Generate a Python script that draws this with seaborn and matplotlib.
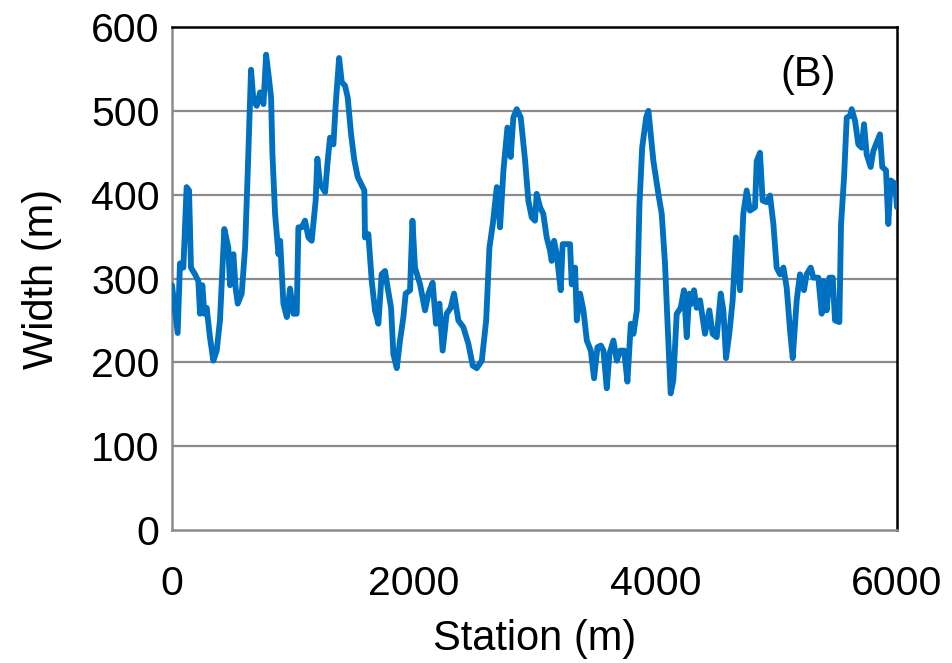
import matplotlib
matplotlib.use("Agg")
import matplotlib.pyplot as plt
import seaborn as sns
import pandas as pd

station = [0, 47, 66, 94, 121, 141, 157, 190, 218, 232, 251, 268, 287, 314, 342, 370, 397,
           433, 466, 480, 508, 527, 544, 577, 605, 627, 654, 674, 701, 729, 757, 779, 798,
           820, 831, 853, 881, 895, 922, 950, 977, 1005, 1032, 1046, 1074, 1101, 1129, 1156,
           1189, 1203, 1225, 1267, 1289, 1308, 1336, 1355, 1383, 1405, 1432, 1454, 1482,
           1509, 1537, 1565, 1592, 1597, 1625, 1653, 1680, 1708, 1735, 1763, 1785, 1813,
           1832, 1860, 1887, 1915, 1934, 1970, 1990, 2011, 2053, 2094, 2122, 2157, 2185,
           2213, 2240, 2273, 2306, 2334, 2370, 2411, 2453, 2489, 2522, 2564, 2600, 2627,
           2655, 2688, 2715, 2743, 2776, 2803, 2825, 2853, 2886, 2922, 2949, 2977, 3004,
           3018, 3046, 3073, 3101, 3129, 3142, 3162, 3184, 3217, 3233, 3267, 3294, 3308,
           3336, 3350, 3377, 3405, 3433, 3466, 3493, 3521, 3549, 3571, 3598, 3620, 3653,
           3681, 3709, 3742, 3769, 3797, 3819, 3847, 3869, 3891, 3924, 3943, 3984, 4025,
           4053, 4080, 4100, 4127, 4149, 4177, 4210, 4237, 4260, 4281, 4301, 4320, 4342,
           4370, 4411, 4447, 4474, 4508, 4541, 4563, 4585, 4612, 4640, 4667, 4701, 4728,
           4756, 4783, 4825, 4839, 4866, 4888, 4921, 4949, 4977, 5004, 5032, 5060, 5087,
           5115, 5137, 5170, 5197, 5230, 5252, 5286, 5308, 5349, 5377, 5391, 5418, 5440,
           5468, 5487, 5523, 5537, 5562, 5584, 5611, 5625, 5653, 5680, 5708, 5727, 5749,
           5782, 5804, 5837, 5859, 5878, 5909, 5928, 5948, 5984, 6000]
width = [292, 235, 318, 313, 409, 405, 313, 305, 297, 258, 292, 258, 265, 230, 202, 214, 250,
         359, 337, 292, 329, 288, 270, 282, 337, 428, 549, 512, 506, 522, 508, 567, 544,
         516, 449, 377, 329, 345, 270, 254, 288, 258, 258, 361, 361, 369, 349, 345,
         393, 443, 413, 403, 441, 468, 460, 508, 563, 534, 530, 516, 472,
         441, 421, 413, 405, 349, 353, 297, 262, 246, 305, 309, 289, 265,
         210, 193, 226, 254, 282, 286, 369, 313, 293, 262, 282, 295, 246,
         270, 214, 258, 265, 282, 250, 242, 222, 196, 193, 202, 250, 337,
         365, 409, 361, 429, 480, 445, 492, 502, 492, 441, 393, 373, 369,
         401, 385, 377, 349, 333, 321, 345, 329, 286, 341, 341, 341, 293,
         313, 250, 282, 262, 226, 214, 181, 218, 220, 214, 169, 210, 226,
         202, 214, 214, 177, 246, 234, 262, 389, 456, 492, 500, 440, 401,
         377, 318, 250, 163, 179, 258, 265, 286, 230, 282, 270, 286, 265,
         274, 234, 262, 234, 230, 282, 262, 205, 234, 274, 349, 286, 377,
         405, 381, 385, 440, 450, 393, 391, 399, 365, 313, 305, 313, 289,
         238, 205, 274, 305, 286, 305, 313, 301, 301, 258, 297, 262, 301,
         301, 250, 248, 365, 421, 492, 494, 502, 488, 460, 456, 484, 448,
         433, 452, 464, 472, 433, 429, 365, 417, 413, 385]

y_ticks = [0, 100, 200, 300, 400, 500, 600]
x_ticks = [0, 2000, 4000, 6000]
x_label = "Station (m)"
y_label = "Width (m)"
panel_label = "(B)"

df = pd.DataFrame({"station": station, "width": width})

sns.set_style("white")
plt.rcParams["font.family"] = ["Liberation Sans", "DejaVu Sans"]
plt.rcParams["text.color"] = "black"
plt.rcParams["axes.labelcolor"] = "black"

fig = plt.figure(figsize=(9.52, 6.63), dpi=100)
ax = fig.add_axes([172 / 952, 133 / 663, 725 / 952, 503 / 663])

sns.lineplot(data=df, x="station", y="width", ax=ax, color="#0070C0",
             linewidth=4.2, sort=False, estimator=None, zorder=3)

ax.set_xlim(0, 6000)
ax.set_ylim(0, 600)
ax.set_xticks(x_ticks)
ax.set_yticks(y_ticks)
ax.set_xticklabels([str(v) for v in x_ticks])
ax.set_yticklabels([str(v) for v in y_ticks])
for v in y_ticks[1:-1]:
    ax.axhline(v, color="#8c8c8c", linewidth=1.6, zorder=1)

ax.tick_params(axis="both", length=0, labelsize=29.5, colors="black")
ax.tick_params(axis="x", pad=25)
ax.tick_params(axis="y", pad=9)
ax.set_xlabel(x_label, fontsize=30, labelpad=12, color="black")
ax.set_ylabel(y_label, fontsize=30, labelpad=21, color="black")

for s in ["left", "bottom"]:
    ax.spines[s].set_color("#8c8c8c")
    ax.spines[s].set_linewidth(1.8)
for s in ["top", "right"]:
    ax.spines[s].set_color("black")
    ax.spines[s].set_linewidth(1.8)
    ax.spines[s].set_visible(True)

ax.text(0.877, 0.905, panel_label, transform=ax.transAxes, fontsize=30,
        ha="center", va="center", color="black")

fig.savefig("out.png", dpi=100)
